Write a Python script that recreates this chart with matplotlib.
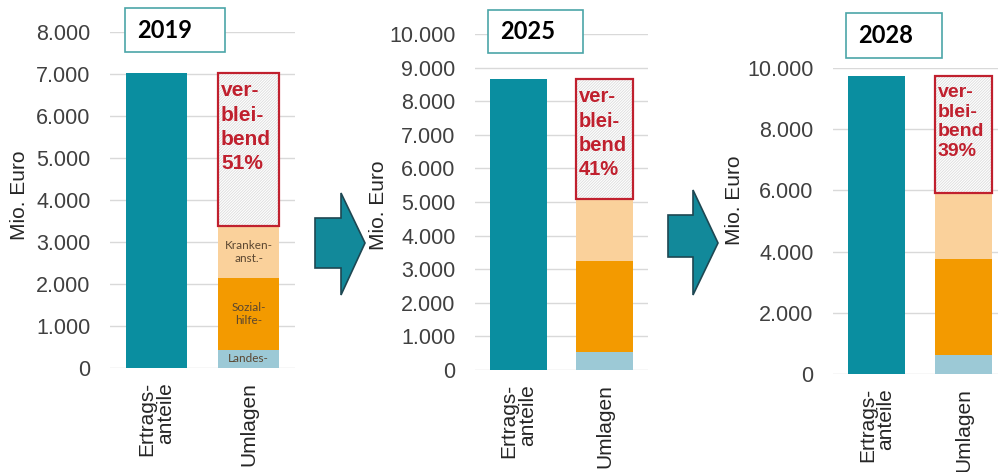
import matplotlib
matplotlib.use("Agg")
import matplotlib.pyplot as plt
from matplotlib.patches import Rectangle, Polygon
from matplotlib.ticker import FuncFormatter, MultipleLocator

plt.rcParams['font.family'] = ['Liberation Sans', 'DejaVu Sans']
plt.rcParams['hatch.linewidth'] = 0.6

# data (Mio. Euro)
years = ['2019', '2025', '2028']
categories = ['Ertrags-\nanteile', 'Umlagen']
ertragsanteile = [7020, 8660, 9750]
landes = [430, 540, 620]
sozialhilfe = [1710, 2700, 3130]
kranken = [1240, 1850, 2180]
verbleibend = [3640, 3570, 3820]
verbleibend_pct = ['51%', '41%', '39%']
seg_labels = ['Landes-', 'Sozial-\nhilfe-', 'Kranken-\nanst.-']
ymax = [8000, 10000, 10000]
ystep = [1000, 1000, 2000]

TEAL = '#0A8EA0'
ORANGE = '#F39A00'
PEACH = '#FAD19B'
LBLUE = '#9CC9D6'
RED = '#C0202E'

W, H = 998, 472
fig = plt.figure(figsize=(W / 100, H / 100), dpi=100)

def fx(px):
    return px / W

def fy(py):
    return 1 - py / H

# axes boxes in pixels: left, right, y of zero line, y of top
axes_px = [(110, 295, 368, 32), (475, 648, 370, 34), (833, 1007, 374, 68)]
title_px = [(125, 8, 225, 52), (488, 10, 583, 53), (846, 13, 942, 58)]
ylabel_px = [(20, 195), (378, 205), (735, 200)]
vb_size = [15, 14.5, 14]
vb_space = [1.35, 1.35, 1.2]

fmt = FuncFormatter(lambda v, p: f"{v:,.0f}".replace(',', '.'))

for i in range(3):
    l, r, b, t = axes_px[i]
    ax = fig.add_axes([fx(l), fy(b), (r - l) / W, (b - t) / H])
    x = [0, 1]
    ax.bar(0, ertragsanteile[i], width=0.66, color=TEAL, zorder=3)
    bottom = 0
    for val, col in zip([landes[i], sozialhilfe[i], kranken[i]], [LBLUE, ORANGE, PEACH]):
        ax.bar(1, val, bottom=bottom, width=0.66, color=col, zorder=3)
        bottom += val
    ax.bar(1, verbleibend[i], bottom=bottom, width=0.66, color='white',
           edgecolor='#DCDCDC', hatch='/' * 12, linewidth=0, zorder=3)
    ax.bar(1, verbleibend[i], bottom=bottom, width=0.66, fill=False,
           edgecolor=RED, linewidth=1.6, zorder=4)
    ax.annotate('ver-\nblei-\nbend\n' + verbleibend_pct[i],
                xy=(1 - 0.33, bottom + verbleibend[i]), xytext=(2, -6),
                textcoords='offset points', ha='left', va='top',
                fontsize=vb_size[i], fontweight='bold', color=RED,
                linespacing=vb_space[i], zorder=5)
    if i == 0:
        b2 = 0
        for val, lab in zip([landes[i], sozialhilfe[i], kranken[i]], seg_labels):
            ax.text(1, b2 + val / 2, lab, ha='center', va='center', fontsize=8.5,
                    family=['Lato', 'DejaVu Sans'], color='#5A4630',
                    linespacing=1.3, zorder=5)
            b2 += val

    ax.set_xlim(-0.5, 1.5)
    ax.set_ylim(0, ymax[i])
    ax.yaxis.set_major_locator(MultipleLocator(ystep[i]))
    ax.yaxis.set_major_formatter(fmt)
    ax.grid(axis='y', color='#D9D9D9', linewidth=1, zorder=0)
    for s in ax.spines.values():
        s.set_visible(False)
    ax.set_xticks(x)
    ax.set_xticklabels(categories, rotation=90, ha='center', va='top',
                       multialignment='right', linespacing=0.95)
    ax.tick_params(axis='y', length=0, pad=14, labelsize=15.5, labelcolor='#404040')
    ax.tick_params(axis='x', length=0, pad=10, labelsize=15, labelcolor='#262626')

    lx, ly = ylabel_px[i]
    fig.text(fx(lx), fy(ly), 'Mio. Euro', rotation=90, ha='center', va='center',
             fontsize=15, color='#262626')

    x0, y0, x1, y1 = title_px[i]
    fig.patches.append(Rectangle((fx(x0), fy(y1)), (x1 - x0) / W, (y1 - y0) / H,
                                 transform=fig.transFigure, facecolor='white',
                                 edgecolor='#4BA5A8', linewidth=1.2, zorder=10))
    fig.text(fx(x0 + 12), fy((y0 + y1) / 2), years[i], ha='left', va='center',
             fontsize=17, fontweight='bold', family=['Lato', 'DejaVu Sans'],
             color='black', zorder=11)

# block arrows between the panels
arrows = [
    [(315, 218), (341, 218), (341, 193), (365, 243), (341, 295), (341, 268), (315, 268)],
    [(668, 215), (693, 215), (693, 190), (718, 243), (693, 295), (693, 257), (668, 257)],
]
for pts in arrows:
    fig.patches.append(Polygon([(fx(a), fy(b)) for a, b in pts], closed=True,
                               transform=fig.transFigure, facecolor='#12899A',
                               edgecolor='#1E4752', linewidth=1.2, zorder=10))

fig.savefig('out.png', dpi=100)
